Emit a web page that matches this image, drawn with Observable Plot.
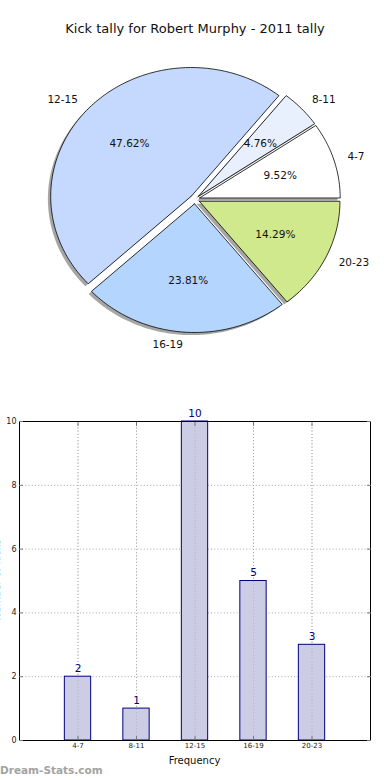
<!DOCTYPE html>
<html>
<head>
<meta charset="utf-8">
<script src="https://cdn.jsdelivr.net/npm/d3@7"></script>
<script src="https://cdn.jsdelivr.net/npm/@observablehq/plot@0.6"></script>
<style>
  html, body { margin: 0; padding: 0; background: #fff; }
  #wrap { position: relative; width: 390px; height: 780px; overflow: hidden; font-family: "DejaVu Sans", sans-serif; }
  #title { position: absolute; left: 0; width: 390px; top: 21px; text-align: center; font-size: 13px; color: #111; }
  #pie { position: absolute; left: 0; top: 0; }
  #bar { position: absolute; left: 0; top: 400px; }
  #xlabel { position: absolute; left: 19px; width: 351px; top: 755px; text-align: center; font-size: 10px; color: #111; }
  #ylabel { position: absolute; left: -48px; top: 574px; width: 90px; height: 12px; line-height: 12px; text-align: center; font-size: 10px; color: #111; transform: rotate(-90deg); transform-origin: 50% 50%; white-space: nowrap; }
  #wm { position: absolute; left: 0; top: 764px; font-size: 10.5px; font-weight: bold; color: #a3a3a3; }
</style>
</head>
<body>
<div id="wrap">
  <div id="pie"></div>
  <div id="title">Kick tally for Robert Murphy - 2011 tally</div>
  <div id="bar"></div>
  <div id="xlabel">Frequency</div>
  <div id="ylabel">Number of kicks</div>
  <div id="wm">Dream-Stats.com</div>
</div>
<script>
// ---- data ----
const categories = ["4-7", "8-11", "12-15", "16-19", "20-23"];
const counts = [2, 1, 10, 5, 3];
const yTicks = [0, 2, 4, 6, 8, 10];

// ---- styles ----
const pieColors = ["#ffffff", "#e8f0fd", "#c4d9fd", "#b4d5fe", "#cfe98c"];
const barFill = "#cccce5";
const barStroke = "#000080";
const FONT = "DejaVu Sans, sans-serif";

// ---- pie geometry (matplotlib-style: start at 0 rad, counter-clockwise) ----
const total = d3.sum(counts);
const explode = 0.035;
let start = 0;
const slices = counts.map((v, i) => {
  const a0 = start, a1 = start + 2 * Math.PI * v / total;
  start = a1;
  const mid = (a0 + a1) / 2;
  const ox = explode * Math.cos(mid), oy = explode * Math.sin(mid);
  const pts = [{x: ox, y: oy}];
  const n = Math.max(4, Math.ceil((a1 - a0) / (Math.PI / 180)));
  for (let k = 0; k <= n; k++) {
    const a = a0 + (a1 - a0) * k / n;
    pts.push({x: ox + Math.cos(a), y: oy + Math.sin(a)});
  }
  pts.push({x: ox, y: oy});
  return {
    cat: categories[i], v, mid, ox, oy, pts,
    pct: (100 * v / total).toFixed(2) + "%",
    lx: ox + 1.1 * Math.cos(mid), ly: oy + 1.1 * Math.sin(mid),
    px: ox + 0.6 * Math.cos(mid), py: oy + 0.6 * Math.sin(mid),
    anchor: Math.cos(mid) >= 0 ? "start" : "end"
  };
});

const cx = 194.4, cy = 198.8, rx = 140.6, ry = 128.7;
const pieMarks = [];
slices.forEach(s => pieMarks.push(Plot.line(s.pts, {x: "x", y: "y", fill: "#4d4d4d", fillOpacity: 0.5, stroke: "none", dx: -2.8, dy: 2.6})));
slices.forEach((s, i) => pieMarks.push(Plot.line(s.pts, {x: "x", y: "y", fill: pieColors[i], stroke: "#000", strokeWidth: 0.8, strokeLinejoin: "miter"})));
pieMarks.push(Plot.text(slices, {x: "px", y: "py", text: "pct", fontSize: 10.5, fill: "#111", textAnchor: "middle", lineAnchor: "middle"}));
slices.forEach(s => pieMarks.push(Plot.text([s], {x: "lx", y: "ly", text: "cat", fontSize: 10.5, fill: "#111", textAnchor: s.anchor, lineAnchor: "middle"})));

const pie = Plot.plot({
  width: 390, height: 390, margin: 0,
  style: {fontFamily: FONT, background: "transparent", overflow: "visible"},
  x: {domain: [-1, 1], range: [cx - rx, cx + rx], axis: null},
  y: {domain: [-1, 1], range: [cy + ry, cy - ry], axis: null},
  marks: pieMarks
});
document.getElementById("pie").appendChild(pie);

// ---- bar chart ----
const bars = categories.map((c, i) => ({i, cat: c, v: counts[i]}));
const idx = d3.range(categories.length);
const halfW = 0.225;
const bar = Plot.plot({
  width: 390, height: 380,
  marginTop: 21, marginBottom: 40, marginLeft: 19, marginRight: 20,
  style: {fontFamily: FONT, background: "transparent", overflow: "visible"},
  x: {type: "linear", domain: [-1, 5]},
  y: {domain: [0, 10]},
  marks: [
    Plot.gridX(idx, {stroke: "#a8a8a8", strokeOpacity: 1, strokeDasharray: "1,2.2", strokeWidth: 1}),
    Plot.gridY(yTicks.slice(1, -1), {stroke: "#a8a8a8", strokeOpacity: 1, strokeDasharray: "1,2.2", strokeWidth: 1}),
    Plot.rectY(bars, {x1: d => d.i - halfW, x2: d => d.i + halfW, y1: 0, y2: "v", fill: barFill, stroke: barStroke, strokeWidth: 1}),
    Plot.gridX(idx, {stroke: "#a8a8a8", strokeOpacity: 0.7, strokeDasharray: "1,2.2", strokeWidth: 1}),
    Plot.text(bars, {x: "i", y: "v", text: d => String(d.v), dy: -8, fontSize: 10.5, fill: barStroke}),
    Plot.frame({stroke: "#000", strokeWidth: 1}),
    Plot.axisX(idx, {anchor: "bottom", tickSize: -4, tickPadding: 7, fontSize: 7, tickFormat: i => categories[i], label: null, color: "#222", stroke: "#777"}),
    Plot.axisX(idx, {anchor: "top", tickSize: -4, tickPadding: 0, tickFormat: () => "", label: null, stroke: "#777"}),
    Plot.axisY(yTicks, {anchor: "left", tickSize: -4, tickPadding: 7, fontSize: 8, label: null, color: "#222", stroke: "#777"}),
    Plot.axisY(yTicks, {anchor: "right", tickSize: -4, tickPadding: 0, tickFormat: () => "", label: null, stroke: "#777"})
  ]
});
document.getElementById("bar").appendChild(bar);
</script>
</body>
</html>
